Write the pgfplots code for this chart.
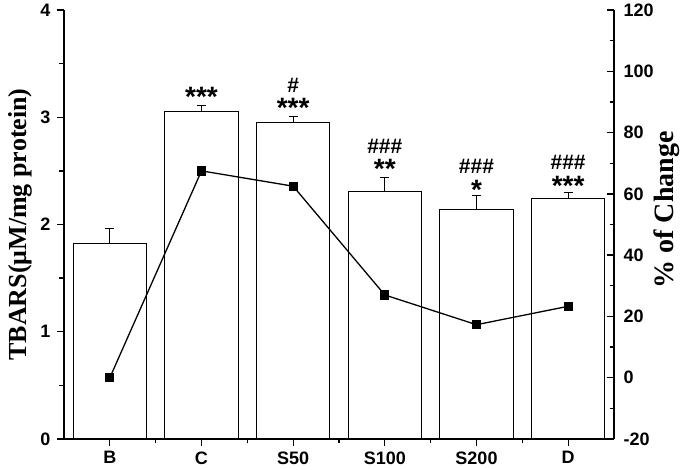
\documentclass[border=0pt]{standalone}
\usepackage{pgfplots}
\pgfplotsset{compat=1.18}
\usepackage{pgfplotstable}
\usepackage{fontspec}
\setmainfont{Liberation Sans}
\newfontfamily\serifb{Liberation Serif}
\tikzset{
 ann/.style={anchor=base, inner sep=0pt, font=\fontsize{28}{28}\selectfont\bfseries},
 hs/.style={anchor=base, inner sep=0pt, font=\fontsize{21}{21}\selectfont\bfseries},
}

\pgfplotstableread{
x y err
0 1.82 0.14
1 3.05 0.06
2 2.95 0.06
3 2.31 0.13
4 2.14 0.13
5 2.24 0.06
}\bars

\pgfplotstableread{
x p
0 0
1 67.5
2 62.5
3 27.0
4 17.3
5 23.3
}\pct

\begin{document}
\begin{tikzpicture}
\path[use as bounding box] (-64pt,-31pt) rectangle (621pt,439pt);
\begin{axis}[
 width=550pt, height=429pt, scale only axis,
 xmin=-0.5, xmax=5.5, ymin=0, ymax=4,
 axis x line*=bottom, axis y line*=left,
 axis line style={line width=1.4pt, -},
 xtick={0,...,5}, xticklabels={B,C,S50,S100,S200,D},
 minor xtick={0.5,1.5,2.5,3.5,4.5},
 ytick={0,1,2,3,4}, minor ytick={0.5,1.5,2.5,3.5},
 tick align=outside, major tick length=7pt, minor tick length=4.5pt,
 every tick/.style={line width=1.3pt, black},
 tick label style={font=\fontsize{18}{18}\selectfont\bfseries},
 xticklabel style={yshift=-2pt},
 yticklabel style={xshift=-3pt},
 /pgf/number format/assume math mode=true,
 every axis y label/.style={at={(axis description cs:-0.08,0.5)}, rotate=90, anchor=center},
 ylabel={\serifb\bfseries\fontsize{26}{26}\selectfont TBARS(μM/mg protein)},
 clip=false,
]
\addplot[ybar, bar width=0.8, bar shift=0pt, fill=white, draw=black, line width=1.2pt,
  error bars/.cd, y dir=plus, y explicit,
  error bar style={line width=1.2pt},
  error mark options={rotate=90, mark size=4.5pt, line width=1.2pt}]
  table[x=x, y=y, y error=err]{\bars};
\node[ann] at (axis cs:1,3.100) {***};
\node[ann] at (axis cs:2,3.000) {***};
\node[hs] at (axis cs:2,3.235) {\#};
\node[hs] at (axis cs:3,2.665) {\#\#\#};
\node[ann] at (axis cs:3,2.425) {**};
\node[hs] at (axis cs:4,2.480) {\#\#\#};
\node[ann] at (axis cs:4,2.230) {*};
\node[hs] at (axis cs:5,2.515) {\#\#\#};
\node[ann] at (axis cs:5,2.270) {***};
\end{axis}
\begin{axis}[
 width=550pt, height=429pt, scale only axis,
 xmin=-0.5, xmax=5.5, ymin=-20, ymax=120,
 axis x line=none, axis y line*=right,
 axis line style={line width=1.4pt, -},
 ytick={-20,0,20,40,60,80,100,120}, minor ytick={-10,10,30,50,70,90,110},
 tick align=inside, major tick length=7pt, minor tick length=4.5pt,
 every tick/.style={line width=1.3pt, black},
 tick label style={font=\fontsize{18}{18}\selectfont\bfseries},
 /pgf/number format/assume math mode=true,
 yticklabel style={anchor=west, xshift=6pt},
 every axis y label/.style={at={(axis description cs:1.096,0.534)}, rotate=90, anchor=center},
 ylabel={\serifb\bfseries\fontsize{28}{28}\selectfont \% of Change},
 clip=false,
]
\addplot[black, line width=1.3pt, mark=square*, mark size=4pt, mark options={solid}] table[x=x, y=p]{\pct};
\end{axis}
\end{tikzpicture}
\end{document}
